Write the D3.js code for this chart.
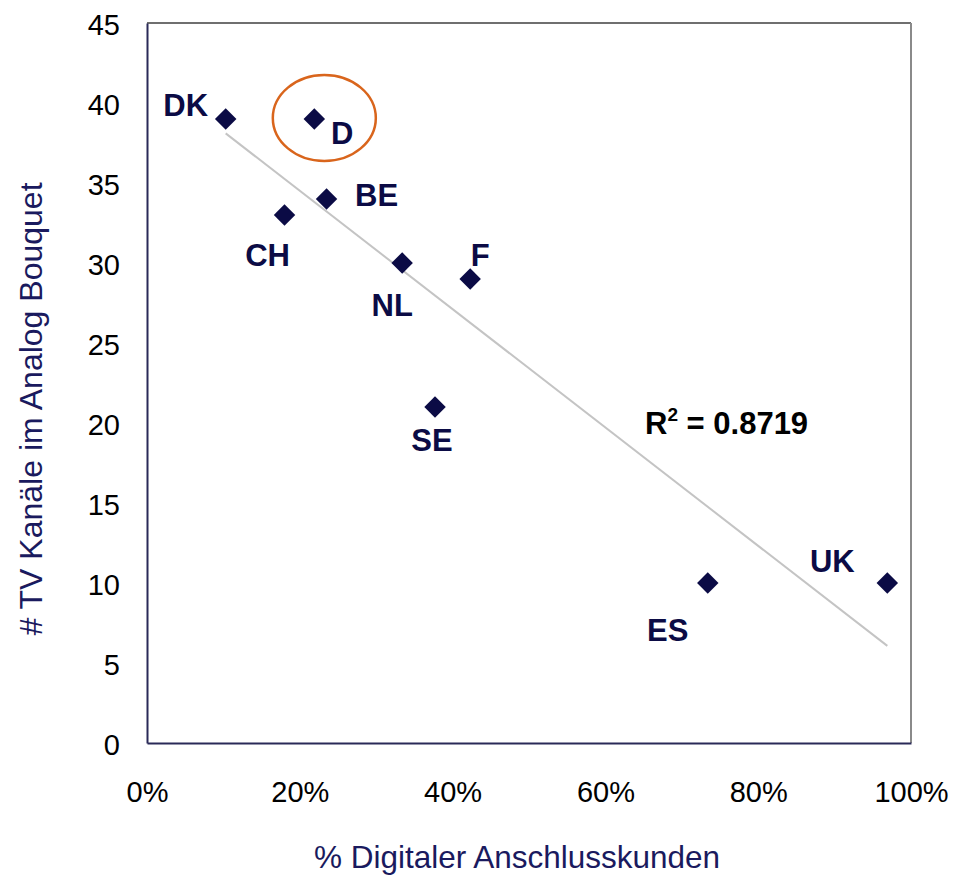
<!DOCTYPE html>
<html>
<head>
<meta charset="utf-8">
<script src="https://cdn.jsdelivr.net/npm/d3@7"></script>
<style>
  body { margin: 0; background: #fff; }
  svg { display: block; }
</style>
</head>
<body>
<svg id="chart" width="958" height="875"></svg>
<script>
// ---- data ----
const countries = ["DK", "D", "BE", "CH", "NL", "F", "SE", "ES", "UK"];
const digitalShare = [0.103, 0.219, 0.235, 0.180, 0.334, 0.423, 0.377, 0.734, 0.969];
const analogChannels = [39, 39, 34, 33, 30, 29, 21, 10, 10];
const xTicks = [0, 0.2, 0.4, 0.6, 0.8, 1.0];
const yTicks = [0, 5, 10, 15, 20, 25, 30, 35, 40, 45];
const rSquaredText = "0.8719";
const highlighted = "D";
const xTitle = "% Digitaler Anschlusskunden";
const yTitle = "# TV Kanäle im Analog Bouquet";

// label offsets (layout, px) relative to each marker
const labelOffsets = {
  DK: [-40, -3], D: [28, 25], BE: [50, 7], CH: [-17, 51], NL: [-10, 53],
  F: [10, -13], SE: [-3, 44], ES: [-40, 58], UK: [-55, -11]
};

const mLeft = 147, mRight = 911, mTop = 23, mBottom = 743;
const navy = "#0b0b45";

const svg = d3.select("#chart");
const x = d3.scaleLinear().domain([0, 1]).range([mLeft, mRight]);
const y = d3.scaleLinear().domain([0, 45]).range([mBottom, mTop]);

const points = countries.map((c, i) => ({ c, x: digitalShare[i], y: analogChannels[i] }));

// frame: top/right gray
svg.append("line").attr("x1", mLeft).attr("x2", mRight).attr("y1", mTop).attr("y2", mTop)
  .attr("stroke", "#6f6f6f").attr("stroke-width", 2);
svg.append("line").attr("x1", mRight).attr("x2", mRight).attr("y1", mTop).attr("y2", mBottom)
  .attr("stroke", "#8a8a8a").attr("stroke-width", 2);

// axes
const xAxis = d3.axisBottom(x).tickValues(xTicks).tickFormat(d3.format(".0%")).tickSize(0).tickPadding(0);
const yAxis = d3.axisLeft(y).tickValues(yTicks).tickFormat(d3.format("d")).tickSize(0).tickPadding(0);

const gx = svg.append("g").attr("transform", `translate(0,${mBottom})`).call(xAxis);
gx.select(".domain").attr("stroke", "#2a2a58").attr("stroke-width", 2);
gx.selectAll("text").attr("font-family", "Liberation Sans, Arial, sans-serif")
  .attr("font-size", 29).attr("fill", "#000").attr("dy", null).attr("y", 59);

const gy = svg.append("g").attr("transform", `translate(${mLeft},0)`).call(yAxis);
gy.select(".domain").attr("stroke", "#2a2a58").attr("stroke-width", 2);
gy.selectAll("text").attr("font-family", "Liberation Sans, Arial, sans-serif")
  .attr("font-size", 29).attr("fill", "#000").attr("x", -27).attr("dy", "0.4em");

// regression trendline
const mx = d3.mean(points, d => d.x), my = d3.mean(points, d => d.y);
const sxy = d3.sum(points, d => (d.x - mx) * (d.y - my));
const sxx = d3.sum(points, d => (d.x - mx) ** 2);
const slope = sxy / sxx, intercept = my - slope * mx;
const [xmin, xmax] = d3.extent(points, d => d.x);
svg.append("line")
  .attr("x1", x(xmin)).attr("y1", y(intercept + slope * xmin))
  .attr("x2", x(xmax)).attr("y2", y(intercept + slope * xmax))
  .attr("stroke", "#c4c4c4").attr("stroke-width", 2);

// markers
const sym = d3.symbol().type(d3.symbolSquare).size(230);
svg.append("g").selectAll("path").data(points).join("path")
  .attr("d", sym)
  .attr("transform", d => `translate(${x(d.x)},${y(d.y)}) rotate(45)`)
  .attr("fill", navy);

// labels
svg.append("g").selectAll("text").data(points).join("text")
  .attr("x", d => x(d.x) + labelOffsets[d.c][0])
  .attr("y", d => y(d.y) + labelOffsets[d.c][1])
  .attr("text-anchor", "middle")
  .attr("font-family", "Liberation Sans, Arial, sans-serif")
  .attr("font-weight", "bold").attr("font-size", 31)
  .attr("fill", navy)
  .text(d => d.c);

// highlight ellipse around D
const hp = points.find(d => d.c === highlighted);
svg.append("ellipse")
  .attr("cx", x(hp.x) + 10).attr("cy", y(hp.y) - 1)
  .attr("rx", 51.5).attr("ry", 43)
  .attr("fill", "none").attr("stroke", "#d9651c").attr("stroke-width", 2.5);

// R^2 annotation
const rt = svg.append("text").attr("x", 645).attr("y", 434)
  .attr("font-family", "Liberation Sans, Arial, sans-serif")
  .attr("font-weight", "bold").attr("font-size", 31).attr("fill", "#000");
rt.append("tspan").text("R");
rt.append("tspan").attr("font-size", 19).attr("dy", -13).text("2");
rt.append("tspan").attr("dy", 13).text(" = " + rSquaredText);

// axis titles
svg.append("text").attr("x", 517).attr("y", 868).attr("text-anchor", "middle")
  .attr("font-family", "Liberation Sans, Arial, sans-serif").attr("font-size", 31.5)
  .attr("fill", "#1a1a5e").text(xTitle);
svg.append("text").attr("transform", "translate(42,409) rotate(-90)").attr("text-anchor", "middle")
  .attr("font-family", "Liberation Sans, Arial, sans-serif").attr("font-size", 32)
  .attr("fill", "#1a1a5e").text(yTitle);
</script>
</body>
</html>
